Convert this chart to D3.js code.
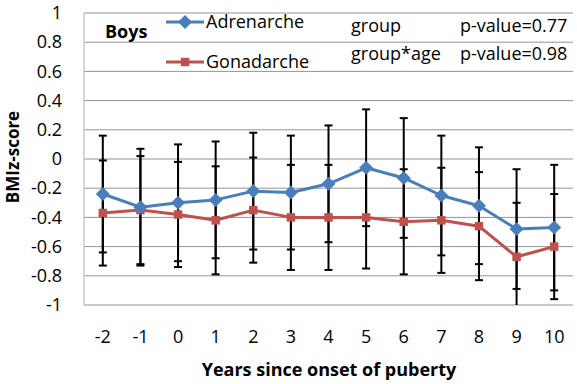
<!DOCTYPE html>
<html>
<head>
<meta charset="utf-8">
<script src="https://cdn.jsdelivr.net/npm/d3@7"></script>
<style>
  body { margin: 0; background: #fff; }
  svg text { font-family: "Open Sans", sans-serif; }
</style>
</head>
<body>
<svg id="chart"></svg>
<script>
var years = [-2, -1, 0, 1, 2, 3, 4, 5, 6, 7, 8, 9, 10];
var adrenarche = [-0.24, -0.33, -0.30, -0.28, -0.22, -0.23, -0.17, -0.06, -0.13, -0.25, -0.32, -0.48, -0.47];
var adrenarcheSd = [0.40, 0.40, 0.40, 0.40, 0.40, 0.39, 0.40, 0.40, 0.41, 0.41, 0.40, 0.41, 0.43];
var gonadarche = [-0.37, -0.35, -0.38, -0.42, -0.35, -0.40, -0.40, -0.40, -0.43, -0.42, -0.46, -0.67, -0.60];
var gonadarcheSd = [0.36, 0.37, 0.36, 0.37, 0.36, 0.36, 0.36, 0.35, 0.36, 0.36, 0.37, 0.37, 0.36];
var yTicks = [1, 0.8, 0.6, 0.4, 0.2, 0, -0.2, -0.4, -0.6, -0.8, -1];

var width = 577, height = 384;
var svg = d3.select("#chart").attr("width", width).attr("height", height);

var x = d3.scaleBand().domain(years).range([84, 573]);
var y = d3.scaleLinear().domain([-1, 1]).range([305, 13]);
var cx = function(d) { return x(d) + x.bandwidth() / 2; };

// gridlines
svg.append("g").selectAll("line")
  .data(yTicks)
  .enter().append("line")
  .attr("x1", 84).attr("x2", 573)
  .attr("y1", function(d) { return y(d); })
  .attr("y2", function(d) { return y(d); })
  .attr("stroke", "#939393").attr("stroke-width", 1);

svg.append("line")
  .attr("x1", 84).attr("x2", 84).attr("y1", y(1)).attr("y2", y(-1))
  .attr("stroke", "#c8c8c8").attr("stroke-width", 1.5);

// axes
var yAxis = svg.append("g").attr("transform", "translate(84,0)")
  .call(d3.axisLeft(y).tickValues(yTicks).tickSize(0).tickPadding(22)
    .tickFormat(function(d) { return String(Math.round(d * 10) / 10); }));
yAxis.select(".domain").remove();
yAxis.selectAll("text").attr("font-size", 18).attr("fill", "#000");

var xAxis = svg.append("g").attr("transform", "translate(0,305)")
  .call(d3.axisBottom(x).tickSize(0).tickPadding(25));
xAxis.select(".domain").remove();
xAxis.selectAll("text").attr("font-size", 18).attr("fill", "#000");

// error bars, both series
function errorBars(means, sds) {
  var g = svg.append("g").attr("stroke", "#000").attr("stroke-width", 2);
  years.forEach(function(yr, i) {
    var top = Math.min(1, means[i] + sds[i]), bot = Math.max(-1, means[i] - sds[i]);
    g.append("line").attr("x1", cx(yr)).attr("x2", cx(yr)).attr("y1", y(top)).attr("y2", y(bot));
    g.append("line").attr("x1", cx(yr) - 4).attr("x2", cx(yr) + 4).attr("y1", y(top)).attr("y2", y(top));
    if (means[i] - sds[i] >= -1)
      g.append("line").attr("x1", cx(yr) - 4).attr("x2", cx(yr) + 4).attr("y1", y(bot)).attr("y2", y(bot));
  });
}
errorBars(gonadarche, gonadarcheSd);
errorBars(adrenarche, adrenarcheSd);

var line = d3.line()
  .x(function(d, i) { return cx(years[i]); })
  .y(function(d) { return y(d); });

var diamond = d3.symbol().type(d3.symbolSquare).size(98);
var square = d3.symbol().type(d3.symbolSquare).size(72);

function drawSeries(values, color, marker, rotate) {
  svg.append("path").datum(values)
    .attr("d", line).attr("fill", "none")
    .attr("stroke", color).attr("stroke-width", 3).attr("stroke-linejoin", "round");
  svg.append("g").selectAll("path")
    .data(values)
    .enter().append("path")
    .attr("d", marker)
    .attr("transform", function(d, i) { return "translate(" + cx(years[i]) + "," + y(d) + ") rotate(" + rotate + ")"; })
    .attr("fill", color);
}
drawSeries(gonadarche, "#c0504d", square, 0);
drawSeries(adrenarche, "#4a7ebb", diamond, 45);

// legend
svg.append("text").attr("x", 105).attr("y", 38)
  .attr("font-size", 18).attr("font-weight", "bold").text("Boys");

var legend = [
  { name: "Adrenarche", color: "#4a7ebb", marker: diamond, rot: 45, y: 22 },
  { name: "Gonadarche", color: "#c0504d", marker: square, rot: 0, y: 62 }
];
legend.forEach(function(l) {
  svg.append("line").attr("x1", 166).attr("x2", 204).attr("y1", l.y).attr("y2", l.y)
    .attr("stroke", l.color).attr("stroke-width", 3);
  svg.append("path").attr("d", l.marker)
    .attr("transform", "translate(185," + l.y + ") rotate(" + l.rot + ")")
    .attr("fill", l.color);
  svg.append("text").attr("x", 206).attr("y", l.y + 6)
    .attr("font-size", 18).text(l.name);
});

svg.append("text").attr("x", 351).attr("y", 32).attr("font-size", 18).text("group");
svg.append("text").attr("x", 460).attr("y", 32).attr("font-size", 18).text("p-value=0.77");
svg.append("text").attr("x", 351).attr("y", 60).attr("font-size", 18).text("group*age");
svg.append("text").attr("x", 460).attr("y", 60).attr("font-size", 18).text("p-value=0.98");

// axis titles
svg.append("text").attr("x", 329).attr("y", 376)
  .attr("text-anchor", "middle").attr("font-size", 18).attr("font-weight", "bold")
  .text("Years since onset of puberty");
svg.append("text")
  .attr("transform", "translate(19,157) rotate(-90)")
  .attr("text-anchor", "middle").attr("font-size", 17).attr("font-weight", "bold")
  .text("BMIz-score");
</script>
</body>
</html>
